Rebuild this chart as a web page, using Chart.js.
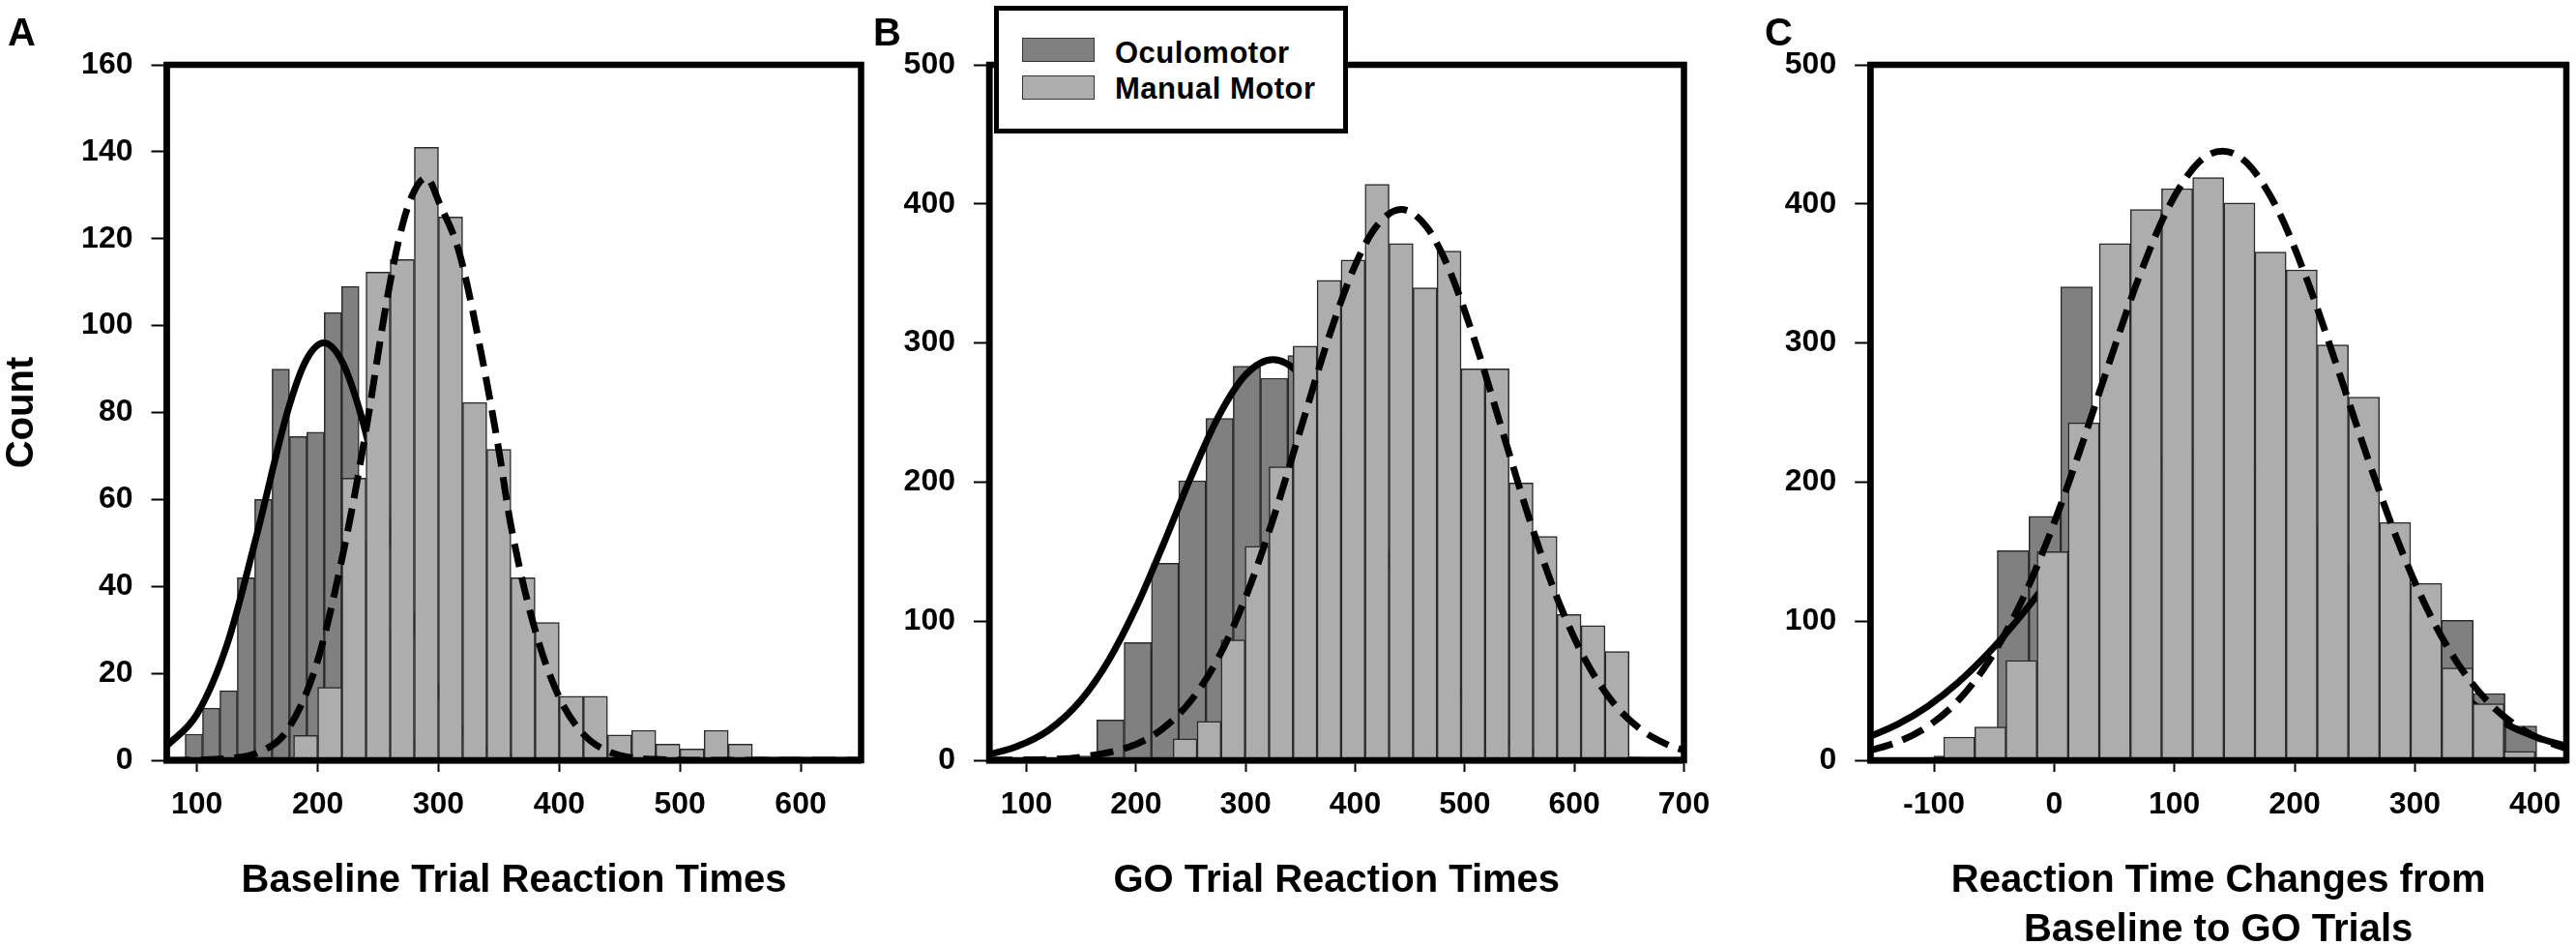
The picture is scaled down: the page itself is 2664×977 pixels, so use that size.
<!DOCTYPE html>
<html><head><meta charset="utf-8">
<script src="https://cdn.jsdelivr.net/npm/chart.js@4.4.1/dist/chart.umd.min.js"></script>
<style>
html,body{margin:0;padding:0;background:#fff;overflow:hidden;width:2664px;height:977px;}
#wrap{position:relative;width:2664px;height:977px;overflow:hidden;}
canvas{position:absolute;top:0;}
.letter{position:absolute;font:bold 40px 'Liberation Sans',Arial,sans-serif;line-height:40px;color:#000;}
#legend{position:absolute;left:1028px;top:6px;width:356px;height:122px;border:5px solid #000;background:#fff;z-index:5;}
.sw{position:absolute;left:24px;width:73px;height:23px;border:1.5px solid #333;}
.lt{position:absolute;left:120px;font:bold 31px 'Liberation Sans',Arial,sans-serif;line-height:31px;letter-spacing:0.5px;white-space:nowrap;color:#000;}
</style></head><body>
<div id="wrap">
<canvas id="aBase" width="905" height="1000" style="left:0px"></canvas>
<canvas id="aTop" width="905" height="1000" style="left:0px"></canvas>
<canvas id="bBase" width="905" height="1000" style="left:880px"></canvas>
<canvas id="bTop" width="905" height="1000" style="left:880px"></canvas>
<canvas id="cBase" width="864" height="1000" style="left:1800px"></canvas>
<canvas id="cTop" width="864" height="1000" style="left:1800px"></canvas>
<div class="letter" style="left:8px;top:13px">A</div>
<div class="letter" style="left:903px;top:13px">B</div>
<div class="letter" style="left:1825px;top:13px">C</div>
<div id="legend">
  <div class="sw" style="top:28px;background:#808080"></div><div class="lt" style="top:28px">Oculomotor</div>
  <div class="sw" style="top:67px;background:#adadad"></div><div class="lt" style="top:65px">Manual Motor</div>
</div>
</div>
<script>
const FONT = "'Liberation Sans', Arial, sans-serif";

// ---------- Panel A: Baseline Trial Reaction Times ----------
const aXTicks = [100, 200, 300, 400, 500, 600];
const aYTicks = [0, 20, 40, 60, 80, 100, 120, 140, 160];
const aOculoBins   = [97.4, 111.8, 126.2, 140.6, 155.0, 169.4, 183.8, 198.2, 212.6, 227.0, 241.4, 255.8, 270.2, 284.6];
const aOculoCounts = [6, 12, 16, 42, 60, 90, 74.5, 75.5, 103, 109, 50, 30, 14, 5];
const aManualBins   = [190, 210, 230, 250, 270, 290, 310, 330, 350, 370, 390, 410, 430, 450, 470, 490, 510, 530, 550, 570, 590, 610, 630];
const aManualCounts = [5.7, 16.8, 64.9, 112.3, 115.2, 141, 125, 82.3, 71.5, 42, 31.7, 14.7, 14.7, 5.8, 6.9, 3.7, 2.6, 6.9, 3.7, 0.6, 0, 0.5, 0];
const aOculoFitX = [75, 100, 125, 150, 175, 190, 205, 220, 235, 260, 285, 310, 335, 360, 400, 450, 650];
const aOculoFitY = [3.3, 10.6, 26.7, 52.4, 80.2, 91.8, 96, 91.8, 80.2, 52.4, 26.7, 10.6, 3.3, 0.8, 0.1, 0, 0];
const aManualFitX = [75, 100, 125, 150, 175, 200, 225, 240, 258, 270, 280, 290, 301, 317, 333, 349, 360, 380, 400, 420, 440, 460, 480, 520, 650];
const aManualFitY = [0, 0.1, 0.4, 1.7, 7, 23, 53, 76, 107, 123, 131, 134, 128, 117, 97, 73, 54, 30, 14.5, 6, 2.1, 0.6, 0.2, 0, 0];

// ---------- Panel B: GO Trial Reaction Times ----------
const bXTicks = [100, 200, 300, 400, 500, 600, 700];
const bYTicks = [0, 100, 200, 300, 400, 500];
const bOculoBins   = [151.75, 176.65, 201.55, 226.45, 251.35, 276.25, 301.15, 326.05, 350.95, 375.85, 400.75, 425.65, 450.55, 475.45, 500.35, 525.25];
const bOculoCounts = [3, 29, 84.6, 141.7, 201, 245.8, 283.3, 274.7, 291, 240, 190, 140, 90, 50, 25, 10];
const bManualBins   = [244.75, 266.65, 288.55, 310.45, 332.35, 354.25, 376.15, 398.05, 419.95, 441.85, 463.75, 485.65, 507.55, 529.45, 551.35, 573.25, 595.15, 617.05, 638.95];
const bManualCounts = [15.5, 28, 86.5, 153.8, 211, 297.8, 345, 359.6, 414, 371.5, 339.7, 366, 281.4, 281.4, 199.4, 160.9, 104.8, 96.8, 78.2];
const bOculoFitX = [66, 90, 120, 150, 175, 200, 225, 250, 275, 300, 325, 350, 375, 400, 425, 450, 475, 500, 525, 550, 575, 600, 650, 700];
const bOculoFitY = [4.2, 9.5, 21.5, 43.5, 71.8, 109.8, 155.4, 203.5, 246.8, 277.1, 288, 277.1, 246.8, 203.5, 155.4, 109.8, 71.8, 43.5, 21.5, 9.5, 4, 1.5, 0.2, 0];
const bManualFitX = [66, 100, 150, 200, 225, 250, 275, 300, 325, 350, 375, 400, 420, 442, 465, 485, 510, 535, 560, 585, 610, 635, 660, 685, 700];
const bManualFitY = [0.1, 0.3, 2.3, 11.5, 23.1, 42.8, 73.5, 117.2, 173.3, 237.6, 302, 356, 384.6, 396, 383.6, 354.2, 299.5, 234.9, 170.8, 115.2, 72.1, 41.8, 22.5, 11.2, 7.1];

// ---------- Panel C: Reaction Time Changes from Baseline to GO Trials ----------
const cXTicks = [-100, 0, 100, 200, 300, 400];
const cYTicks = [0, 100, 200, 300, 400, 500];
const cOculoBins   = [-87, -60.6, -34.2, -7.8, 18.6, 45, 71.4, 97.8, 124.2, 150.6, 177, 203.4, 229.8, 256.2, 282.6, 309, 335.4, 361.8, 388.2];
const cOculoCounts = [3, 12, 150.6, 175.3, 340.4, 200, 210, 215, 220, 210, 200, 180, 160, 130, 105, 90, 100.6, 48, 24.7];
const cManualBins   = [-79.05, -53.15, -27.25, -1.35, 24.55, 50.45, 76.35, 102.25, 128.15, 154.05, 179.95, 205.85, 231.75, 257.65, 283.55, 309.45, 335.35, 361.25, 387.15];
const cManualCounts = [16.7, 24, 71.8, 150, 242.6, 371.5, 396, 411, 419, 400.6, 365.4, 352.6, 298.7, 261, 171, 127.2, 66.3, 40.7, 6.4];
const cOculoFitX = [-153, -130, -105, -80, -55, -30, -5, 20, 45, 70, 95, 123, 150, 175, 200, 225, 250, 275, 300, 325, 350, 375, 400, 426];
const cOculoFitY = [17.2, 26, 38.9, 55.9, 76.9, 101.6, 128.6, 156.1, 181.7, 202.9, 217.2, 223, 217.6, 203.6, 182.7, 157.2, 129.7, 102.6, 77.8, 56.6, 39.5, 26.4, 16.9, 10.2];
const cManualFitX = [-153, -130, -105, -80, -55, -30, -5, 20, 45, 70, 95, 120, 140, 160, 185, 210, 235, 260, 285, 310, 335, 360, 385, 410, 426];
const cManualFitY = [7, 13.2, 24.5, 42.8, 70.5, 109.2, 159.4, 219.2, 283.8, 346.1, 397.4, 429.7, 438, 429.7, 397.4, 346.1, 283.8, 219.2, 159.4, 109.2, 70.5, 42.8, 24.5, 13.2, 8.6];

const DARK = '#808080', LIGHT = '#adadad', EDGE = '#2a2a2a', CLEAR = 'rgba(0,0,0,0)';

function pts(xs, ys) { return xs.map((x, i) => ({ x: x, y: ys[i] })); }
function fixTicks(vals) { return scale => { scale.ticks = vals.map(v => ({ value: v })); }; }

const framePlugin = {
  id: 'frame',
  afterDatasetsDraw(chart) {
    if (!chart.options.plugins.frame.show) return;
    const a = chart.chartArea, ctx = chart.ctx;
    ctx.save();
    ctx.strokeStyle = '#000';
    ctx.lineWidth = 6.5;
    ctx.strokeRect(a.left, a.top, a.right - a.left, a.bottom - a.top);
    ctx.restore();
  }
};

// One layer = one histogram series + its fitted curve, on identical axes.
function layer(id, p, bins, counts, fitX, fitY, color, dashed, isTop) {
  const ink = isTop ? CLEAR : '#000';
  const tickFont = { family: FONT, size: 32, weight: 'bold' };
  return new Chart(document.getElementById(id), {
    type: 'bar',
    data: {
      datasets: [
        { type: 'line', label: 'fit', data: pts(fitX, fitY), order: 0,
          borderColor: '#000', borderWidth: 7, borderDash: dashed ? [24, 11] : [],
          pointRadius: 0, fill: false, cubicInterpolationMode: 'monotone' },
        { type: 'bar', label: 'counts', data: pts(bins, counts), order: 1,
          backgroundColor: color, borderColor: EDGE, borderWidth: 1.5,
          barPercentage: 1, categoryPercentage: 1 }
      ]
    },
    options: {
      responsive: false, animation: false, devicePixelRatio: 1,
      barPercentage: 1, categoryPercentage: 1,
      layout: { padding: { top: 67, right: p.padR, left: 0, bottom: 0 } },
      plugins: { legend: { display: false }, tooltip: { enabled: false }, frame: { show: isTop } },
      scales: {
        x: {
          type: 'linear', position: 'bottom', min: p.xmin, max: p.xmax, offset: false,
          afterBuildTicks: fixTicks(p.xt), afterFit: s => { s.height = 214; },
          border: { display: true, width: 6.5, color: ink },
          grid: { display: true, offset: false, drawOnChartArea: false, drawTicks: true, tickLength: 12, tickWidth: 2, tickColor: ink, color: ink },
          ticks: { autoSkip: false, maxRotation: 0, padding: 15, color: ink, font: tickFont, callback: v => String(v) },
          title: { display: true, text: p.title, color: ink,
                   font: { family: FONT, size: 40, weight: 'bold', lineHeight: 1.275 },
                   padding: { top: 0, bottom: p.titlePad } }
        },
        y: {
          type: 'linear', position: 'left', min: 0, max: p.ymax,
          afterBuildTicks: fixTicks(p.yt), afterFit: s => { s.width = p.yw; },
          border: { display: true, width: 6.5, color: ink },
          grid: { display: true, drawOnChartArea: false, drawTicks: true, tickLength: 16, tickWidth: 2, tickColor: ink, color: ink },
          ticks: { padding: 19, color: ink, font: tickFont, callback: v => String(v) },
          title: p.ytitle ? { display: true, text: p.ytitle, color: ink,
                   font: { family: FONT, size: 40, weight: 'bold', lineHeight: 1 },
                   padding: { top: 2.5, bottom: 0 } } : { display: false }
        }
      }
    },
    plugins: [framePlugin]
  });
}

function panel(base, top, p) {
  // bottom layer: Oculomotor bars + solid fit; top layer: Manual Motor bars + dashed fit + frame
  layer(base, p, p.ob, p.oc, p.ofx, p.ofy, DARK, false, false);
  layer(top, p, p.mb, p.mc, p.mfx, p.mfy, LIGHT, true, true);
}

panel('aBase', 'aTop', { xt: aXTicks, yt: aYTicks, xmin: 75, xmax: 650, ymax: 160, yw: 172.5, padR: 14.5,
  title: 'Baseline Trial Reaction Times', titlePad: 63.5, ytitle: 'Count',
  ob: aOculoBins, oc: aOculoCounts, mb: aManualBins, mc: aManualCounts,
  ofx: aOculoFitX, ofy: aOculoFitY, mfx: aManualFitX, mfy: aManualFitY });

panel('bBase', 'bTop', { xt: bXTicks, yt: bYTicks, xmin: 66, xmax: 700, ymax: 500, yw: 143, padR: 43.5,
  title: 'GO Trial Reaction Times', titlePad: 63.5,
  ob: bOculoBins, oc: bOculoCounts, mb: bManualBins, mc: bManualCounts,
  ofx: bOculoFitX, ofy: bOculoFitY, mfx: bManualFitX, mfy: bManualFitY });

panel('cBase', 'cTop', { xt: cXTicks, yt: cYTicks, xmin: -153, xmax: 426, ymax: 500, yw: 134.2, padR: 10,
  title: ['Reaction Time Changes from', 'Baseline to GO Trials'], titlePad: 12.5,
  ob: cOculoBins, oc: cOculoCounts, mb: cManualBins, mc: cManualCounts,
  ofx: cOculoFitX, ofy: cOculoFitY, mfx: cManualFitX, mfy: cManualFitY });
</script>
</body></html>
